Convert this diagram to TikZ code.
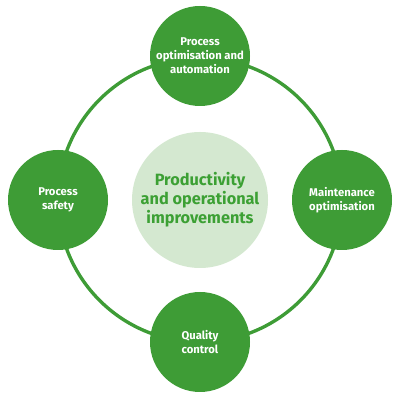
\documentclass[tikz,border=0pt]{standalone}
\usepackage{fontspec}
\setmainfont{Fira Sans}
\usepackage{tkz-euclide}
\definecolor{RingClr}{RGB}{62,156,54}
\definecolor{HubClr}{RGB}{212,232,208}
\definecolor{HubTxtClr}{RGB}{60,160,52}

\begin{document}
\begin{tikzpicture}
\useasboundingbox (0,0) rectangle (10,10);
\tikzset{stage/.style={circle,fill=RingClr,minimum size=2.5cm,inner sep=0pt,
    text=white,align=center,font=\fontsize{8}{10}\selectfont\bfseries},
  hub/.style={circle,fill=HubClr,minimum size=3.4cm,inner sep=0pt,
    text=HubTxtClr,align=center,font=\fontsize{11.6}{13.6}\selectfont\bfseries}}

\tkzDefPoints{5/5/O,5/8.6/T,8.55/5/R,5/1.45/B,1.45/5/L}

\tkzDrawCircle[line width=2.4pt,color=RingClr](O,R)

\node[hub] (hub) at (O) {Productivity\\and operational\\improvements};

\node[stage] (top) at (T) {Process\\optimisation and\\automation};
\node[stage] (right) at (R) {Maintenance\\optimisation};
\node[stage] (bottom) at (B) {Quality\\control};
\node[stage] (left) at (L) {Process\\safety};

\end{tikzpicture}
\end{document}
